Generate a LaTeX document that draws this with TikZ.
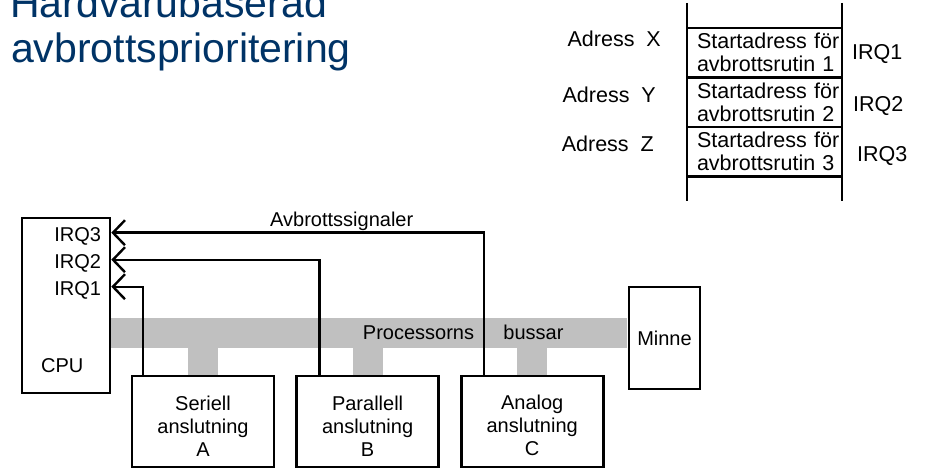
\documentclass[tikz,border=0pt]{standalone}
\usepackage{fontspec}
\setmainfont{Liberation Sans}
\usetikzlibrary{arrows.meta,positioning}
\definecolor{titleblue}{HTML}{003366}
\definecolor{busgrey}{HTML}{C0C0C0}

\tikzset{
  unitbox/.style={draw, line width=2.6pt, minimum width=142pt, minimum height=91pt,
    align=center, font=\fontsize{20}{23}\selectfont, text height=69pt},
  memcell/.style={draw, line width=2.4pt, outer sep=0pt, minimum width=155pt,
    minimum height=49.5pt, text width=135pt, inner xsep=10pt, align=left,
    font=\fontsize{21.5}{23}\selectfont},
  busbar/.style={fill=busgrey, inner sep=0pt, outer sep=0pt, minimum height=30pt},
  irqline/.style={line width=2.4pt, -{Straight Barb[length=12pt,width=25pt]}},
  lbl/.style={font=\fontsize{20}{23}\selectfont, inner sep=0pt},
  memlbl/.style={font=\fontsize{21.5}{23}\selectfont, inner sep=0pt},
}

\begin{document}
\begin{tikzpicture}[x=1pt,y=-1pt]
  \useasboundingbox (0,0) rectangle (928,470);

  % Title
  \node[anchor=base west, inner sep=0pt, font=\fontsize{41}{45}\selectfont, text=titleblue] (title1) at (10,18) {Hardvarubaserad};
  \node[anchor=base west, inner sep=0pt, font=\fontsize{41}{45}\selectfont, text=titleblue] (title2) at (11,63) {avbrottsprioritering};

  % Vector table
  \foreach \i/\adr/\ax/\ay/\ix/\iy in {1/X/661/47/852/60, 2/Y/656/103/853/112, 3/Z/654/152/857/162} {
    \node[memcell] (cell\i) at (764.5,{3.25+49.5*\i}) {Startadress~för\\avbrottsrutin~\i};
    \node[memlbl, anchor=base east] (adr\i) at (\ax,\ay) {Adress\ \ \adr};
    \node[memlbl, anchor=base west] (vec\i) at (\ix,\iy) {IRQ\i};
  }
  \draw[line width=2.4pt] ([yshift=25pt]cell1.north west) -- ([yshift=-25pt]cell3.south west);
  \draw[line width=2.4pt] ([yshift=25pt]cell1.north east) -- ([yshift=-25pt]cell3.south east);

  % CPU and memory
  \node[draw, line width=2.6pt, minimum width=88pt, minimum height=175pt] (cpu) at (66,305.5) {};
  \node[lbl, anchor=base west] (cpulbl) at (41,372) {CPU};
  \node[draw, line width=2.6pt, minimum width=71pt, minimum height=102pt, lbl, inner sep=3pt] (minne) at (664.5,338) {Minne};

  % Interface units
  \node[unitbox] (serA) at (203,421.5) {Seriell\\anslutning\\A};
  \node[unitbox, right=20pt of serA] (parB) {Parallell\\anslutning\\B};
  \node[unitbox, right=20pt of parB] (anaC) {Analog\\anslutning\\C};

  % Bus
  \node[busbar, anchor=west, minimum width=516pt] (bus) at (cpu.east |- 0,333) {};
  \foreach \u in {serA,parB,anaC} {
    \fill[busgrey] ([xshift=-15pt]\u.north |- bus.south) rectangle ([xshift=15pt]\u.north);
  }
  \node[lbl, anchor=base] (procs) at (418.5,339) {Processorns};
  \node[lbl, anchor=base] (buss) at (533.5,339) {bussar};

  % Interrupt signals
  \foreach \i/\dy in {3/16, 2/43, 1/70} {
    \coordinate (in\i) at ([yshift=-\dy pt]cpu.north east);
    \node[lbl, anchor=base east] (irq\i) at ([xshift=-10pt,yshift=-9pt]in\i) {IRQ\i};
  }
  \draw[irqline] ([xshift=12pt]serA.north west) |- (in1);
  \draw[irqline] ([xshift=24pt]parB.north west) |- (in2);
  \draw[irqline] ([xshift=24pt]anaC.north west) |- (in3);
  \node[lbl, anchor=base west] (sig) at (270,227) {Avbrottssignaler};
\end{tikzpicture}
\end{document}
